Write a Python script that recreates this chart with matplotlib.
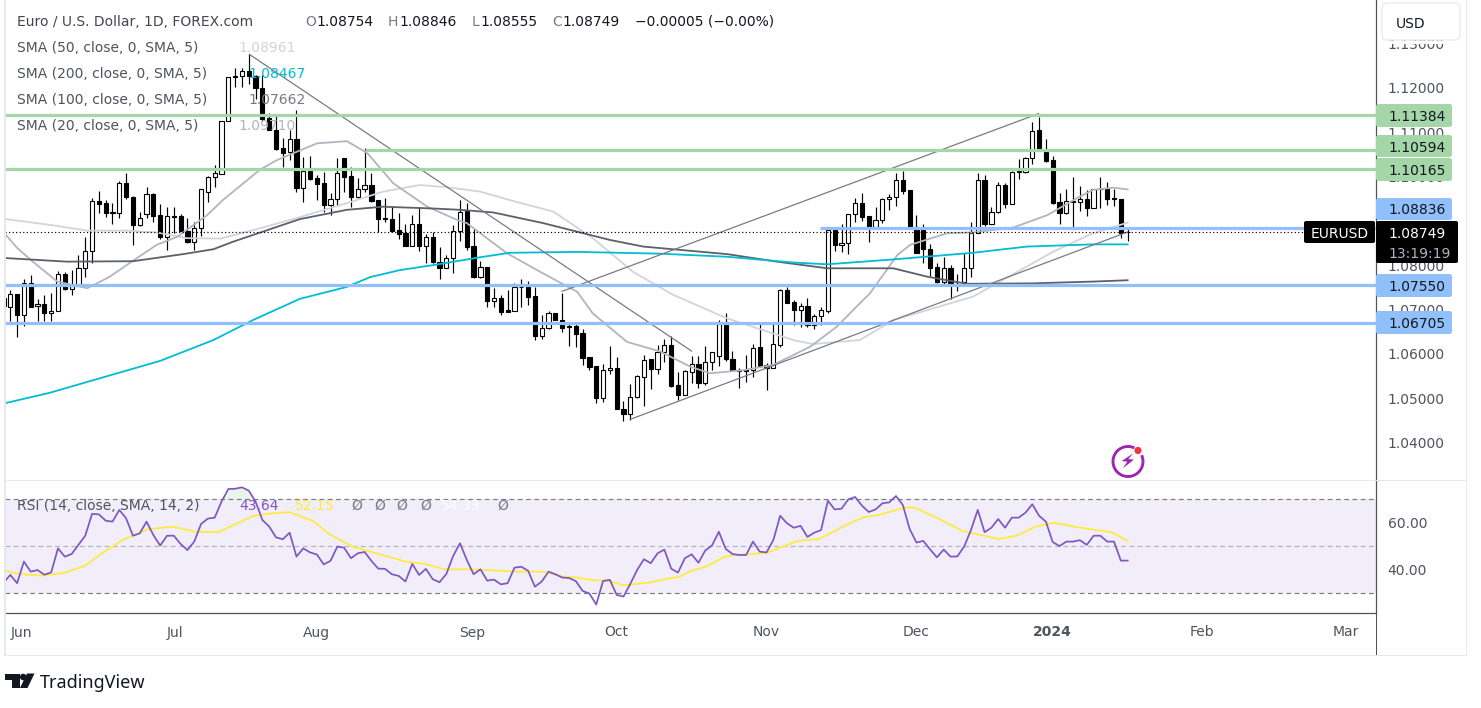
import numpy as np
import matplotlib
matplotlib.use("Agg")
import matplotlib.pyplot as plt
from matplotlib.patches import Rectangle, FancyBboxPatch, Polygon, Circle, Arc

plt.rcParams['font.family'] = ['DejaVu Sans']

# ---------- OHLC (daily, one row per bar) ----------
ohlc = [
(1.0726,1.0732,1.0694,1.0707),(1.0706,1.0745,1.0674,1.0734),(1.0734,1.0735,1.0637,1.0688),(1.0688,1.0768,1.0662,1.0760),
(1.0760,1.0777,1.0705,1.0706),(1.0707,1.0723,1.0674,1.0713),(1.0713,1.0732,1.0674,1.0691),(1.0691,1.0737,1.0674,1.0697),
(1.0697,1.0787,1.0696,1.0780),(1.0781,1.0784,1.0745,1.0747),(1.0747,1.0789,1.0733,1.0753),(1.0753,1.0822,1.0752,1.0793),
(1.0793,1.0863,1.0774,1.0831),(1.0831,1.0952,1.0805,1.0944),(1.0944,1.0968,1.0918,1.0939),(1.0940,1.0947,1.0909,1.0918),
(1.0920,1.0940,1.0893,1.0917),(1.0917,1.0990,1.0906,1.0985),(1.0985,1.1009,1.0949,1.0954),(1.0955,1.0956,1.0846,1.0891),
(1.0891,1.0920,1.0889,1.0906),(1.0915,1.0977,1.0906,1.0960),(1.0961,1.0963,1.0898,1.0912),(1.0913,1.0938,1.0860,1.0864),
(1.0864,1.0932,1.0834,1.0910),(1.0910,1.0932,1.0872,1.0909),(1.0911,1.0915,1.0877,1.0878),(1.0878,1.0906,1.0851,1.0853),
(1.0853,1.0898,1.0834,1.0885),(1.0884,1.0972,1.0866,1.0971),(1.0966,1.1001,1.0943,1.1000),(1.1000,1.1026,1.0977,1.1007),
(1.1006,1.1126,1.1005,1.1126),(1.1126,1.1225,1.1126,1.1224),(1.1226,1.1245,1.1203,1.1225),(1.1227,1.1245,1.1203,1.1238),
(1.1238,1.1276,1.1210,1.1227),(1.1227,1.1230,1.1174,1.1201),(1.1201,1.1230,1.1126,1.1129),(1.1132,1.1143,1.1105,1.1105),
(1.1105,1.1139,1.1060,1.1062),(1.1064,1.1086,1.1022,1.1054),(1.1055,1.1105,1.1037,1.1084),(1.1084,1.1150,1.0966,1.0975),
(1.0975,1.1045,1.0943,1.1013),(1.1013,1.1046,1.0992,1.0994),(1.0997,1.1003,1.0947,1.0984),(1.0985,1.1011,1.0919,1.0936),
(1.0936,1.0963,1.0913,1.0949),(1.0949,1.1041,1.0936,1.1007),(1.1041,1.1041,1.0966,1.1000),(1.1001,1.1022,1.0931,1.0954),
(1.0954,1.0996,1.0951,1.0973),(1.0972,1.1064,1.0966,1.0981),(1.0981,1.1007,1.0943,1.0945),(1.0947,1.0947,1.0875,1.0905),
(1.0906,1.0951,1.0898,1.0905),(1.0904,1.0933,1.0875,1.0878),(1.0879,1.0917,1.0858,1.0870),(1.0873,1.0893,1.0844,1.0844),
(1.0844,1.0913,1.0844,1.0894),(1.0894,1.0931,1.0832,1.0844),(1.0844,1.0870,1.0804,1.0863),(1.0863,1.0875,1.0804,1.0807),
(1.0808,1.0840,1.0768,1.0794),(1.0794,1.0823,1.0794,1.0817),(1.0817,1.0890,1.0783,1.0878),(1.0878,1.0947,1.0855,1.0921),
(1.0922,1.0940,1.0834,1.0841),(1.0843,1.0881,1.0771,1.0774),(1.0774,1.0810,1.0771,1.0795),(1.0795,1.0796,1.0706,1.0719),
(1.0720,1.0749,1.0705,1.0727),(1.0727,1.0732,1.0687,1.0695),(1.0698,1.0744,1.0695,1.0695),(1.0697,1.0759,1.0697,1.0750),
(1.0750,1.0768,1.0706,1.0751),(1.0750,1.0764,1.0710,1.0728),(1.0730,1.0751,1.0631,1.0640),(1.0640,1.0687,1.0634,1.0659),
(1.0658,1.0697,1.0655,1.0691),(1.0691,1.0692,1.0676,1.0676),(1.0677,1.0737,1.0649,1.0658),(1.0662,1.0672,1.0617,1.0661),
(1.0662,1.0667,1.0615,1.0644),(1.0646,1.0655,1.0574,1.0591),(1.0592,1.0592,1.0563,1.0570),(1.0572,1.0573,1.0489,1.0500),
(1.0501,1.0578,1.0491,1.0564),(1.0564,1.0617,1.0555,1.0568),(1.0569,1.0593,1.0475,1.0475),(1.0476,1.0493,1.0448,1.0464),
(1.0464,1.0531,1.0451,1.0502),(1.0502,1.0551,1.0500,1.0549),(1.0548,1.0598,1.0482,1.0587),(1.0588,1.0588,1.0520,1.0566),
(1.0566,1.0619,1.0555,1.0605),(1.0604,1.0634,1.0582,1.0619),(1.0619,1.0640,1.0525,1.0527),(1.0529,1.0559,1.0495,1.0507),
(1.0507,1.0563,1.0507,1.0561),(1.0560,1.0594,1.0533,1.0576),(1.0576,1.0594,1.0523,1.0533),(1.0533,1.0617,1.0529,1.0582),
(1.0582,1.0603,1.0563,1.0603),(1.0594,1.0677,1.0573,1.0668),(1.0668,1.0693,1.0584,1.0588),(1.0589,1.0606,1.0563,1.0563),
(1.0564,1.0568,1.0523,1.0561),(1.0564,1.0597,1.0536,1.0561),(1.0563,1.0623,1.0548,1.0614),(1.0615,1.0667,1.0571,1.0573),
(1.0574,1.0579,1.0518,1.0568),(1.0568,1.0667,1.0568,1.0621),(1.0620,1.0746,1.0615,1.0745),(1.0745,1.0751,1.0715,1.0715),
(1.0716,1.0721,1.0665,1.0699),(1.0699,1.0714,1.0661,1.0707),(1.0707,1.0725,1.0661,1.0665),(1.0666,1.0689,1.0655,1.0686),
(1.0686,1.0705,1.0665,1.0698),(1.0697,1.0887,1.0692,1.0879),(1.0879,1.0879,1.0832,1.0845),(1.0846,1.0894,1.0830,1.0850),
(1.0850,1.0915,1.0825,1.0915),(1.0915,1.0951,1.0898,1.0940),(1.0940,1.0964,1.0900,1.0909),(1.0910,1.0910,1.0853,1.0885),
(1.0887,1.0931,1.0887,1.0903),(1.0902,1.0952,1.0896,1.0949),(1.0949,1.0960,1.0924,1.0953),(1.0953,1.1007,1.0933,1.0992),
(1.0992,1.1013,1.0961,1.0968),(1.0969,1.0970,1.0883,1.0883),(1.0887,1.0913,1.0828,1.0828),(1.0879,1.0894,1.0805,1.0836),
(1.0836,1.0848,1.0776,1.0794),(1.0795,1.0804,1.0760,1.0762),(1.0762,1.0819,1.0757,1.0793),(1.0793,1.0800,1.0723,1.0760),
(1.0762,1.0780,1.0742,1.0761),(1.0762,1.0827,1.0762,1.0793),(1.0793,1.0897,1.0774,1.0873),(1.0873,1.1008,1.0873,1.0992),
(1.0992,1.1004,1.0888,1.0892),(1.0894,1.0931,1.0893,1.0921),(1.0921,1.0987,1.0917,1.0980),(1.0980,1.0985,1.0930,1.0939),
(1.0939,1.1013,1.0937,1.1010),(1.1010,1.1039,1.0994,1.1013),(1.1011,1.1045,1.1009,1.1041),(1.1041,1.1123,1.1028,1.1104),
(1.1105,1.1135,1.1060,1.1060),(1.1056,1.1084,1.1034,1.1036),(1.1037,1.1046,1.0939,1.0941),(1.0942,1.0964,1.0893,1.0918),
(1.0918,1.0971,1.0915,1.0944),(1.0944,1.1000,1.0883,1.0942),(1.0942,1.0979,1.0922,1.0949),(1.0949,1.0970,1.0912,1.0930),
(1.0930,1.0971,1.0930,1.0971),(1.0971,1.0998,1.0930,1.0972),(1.0971,1.0987,1.0936,1.0949),(1.0951,1.0971,1.0933,1.0949),
(1.0949,1.0949,1.0862,1.0873),(1.08754,1.08846,1.08555,1.08749),
]
opens = [r[0] for r in ohlc]
highs = [r[1] for r in ohlc]
lows = [r[2] for r in ohlc]
closes = [r[3] for r in ohlc]

# ---------- moving averages: bar position, value ----------
sma200_x = [.37,6.8,14.2,23,30.8,36.6,43.5,50.4,53.8,58.2,63,70,74.3,84.2,96.4,106.2,115.9,120.9,130.6,142.3,150.2,159.9,165]
sma200_y = [1.0489,1.0512,1.0545,1.0584,1.0631,1.0676,1.0724,1.0751,1.0773,1.0789,1.0800,1.0818,1.0828,1.0830,1.0826,1.0819,1.0806,1.0802,1.0813,1.0828,1.0842,1.0847,1.0847]
sma100_x = [.37,9.3,19,26.4,30.8,33.7,38.7,43.5,50.4,55.7,63,67,71.9,79.2,89,93.9,106.2,113.5,120.9,130.6,135.6,141.4,151.1,159.9,165]
sma100_y = [1.0816,1.0808,1.0809,1.0825,1.0836,1.0853,1.0879,1.0904,1.0925,1.0932,1.0928,1.0925,1.0919,1.0895,1.0857,1.0842,1.0825,1.0808,1.0793,1.0793,1.0774,1.0758,1.0759,1.0763,1.0766]
sma50_x = [.37,6.8,12.3,18.1,22.5,26.9,31.8,36.6,42.5,50.4,55.7,61.1,65.1,70,74.3,80.7,86.5,92.4,98.3,106.2,115.9,118.8,125.7,130.6,142.3,150.2,154,159.9,165]
sma50_y = [1.0904,1.0891,1.0878,1.0878,1.0874,1.0861,1.0860,1.0879,1.0904,1.0940,1.0966,1.0981,1.0976,1.0966,1.0947,1.0921,1.0861,1.0785,1.0733,1.0680,1.0631,1.0622,1.0631,1.0676,1.0729,1.0797,1.0830,1.0872,1.0896]
sma20_x = [.37,2,4.3,7.9,12.3,15.6,19,22.5,25.5,29.9,32.2,37.6,40.1,46,50.4,53.4,57.2,62.2,66.6,68,73.9,78.3,84.2,86.5,91.5,96.4,100.8,103.7,108.6,113,118.4,122.3,125.7,127.2,131.2,133.1,138.5,142.3,148.2,153.2,158,159.9,162.9,165]
sma20_y = [1.0868,1.0839,1.0808,1.0763,1.0748,1.0774,1.0810,1.0846,1.0864,1.0913,1.0947,1.1015,1.1037,1.1075,1.1080,1.1053,1.0985,1.0932,1.0902,1.0895,1.0827,1.0789,1.0740,1.0691,1.0627,1.0605,1.0571,1.0556,1.0563,1.0575,1.0616,1.0661,1.0714,1.0737,1.0823,1.0846,1.0872,1.0874,1.0885,1.0913,1.0955,1.0970,1.0975,1.0971]

# ---------- horizontal levels and trend lines ----------
green_levels = [1.11384, 1.10594, 1.10165]
blue_levels = [1.08836, 1.07550, 1.06705]
level_start = {1.10594: 53, 1.08836: 119.8}
last_price = 1.08749
trend_lines = [((36.08, 1.1276), (101, 1.0606)),
               ((92, 1.0452), (165, 1.0875)),
               ((82, 1.0741), (151.9, 1.1142))]

# ---------- RSI ----------
rsi = [34.5,37.8,34.3,43.5,39.2,39.9,37.9,38.9,49.1,45.6,46.7,50.6,54.5,63.8,63.6,60.9,60.5,65.5,61.9,54.5,55.5,60.5,54.8,50.3,54.5,54.5,51.0,48.4,52.0,59.5,61.8,62.2,69.0,74.4,74.5,75.1,73.7,69.0,61.2,58.4,53.8,53.0,55.8,45.6,49.1,47.4,46.5,42.3,43.8,49.9,49.4,44.9,47.0,47.6,43.8,40.5,40.4,38.1,37.4,35.0,42.5,37.8,40.4,36.0,34.7,38.2,45.9,51.3,44.2,38.1,40.2,35.4,35.8,33.8,34.3,40.9,41.3,39.6,32.8,35.0,39.2,38.1,36.7,36.5,35.2,31.0,29.9,25.2,35.2,35.7,29.3,28.6,34.0,39.9,44.5,42.8,47.0,48.6,40.5,38.8,44.9,46.6,43.0,48.2,50.4,56.2,48.9,46.7,46.3,46.3,52.0,47.7,47.4,52.7,63.0,59.8,57.9,58.7,54.0,55.8,56.9,69.4,65.7,66.0,70.0,71.0,67.3,64.6,65.7,68.3,68.7,71.4,67.6,57.4,51.6,52.3,48.7,45.3,48.6,45.6,45.7,49.9,56.9,65.5,56.0,57.9,61.6,57.9,62.2,62.2,64.3,67.9,63.0,60.5,51.8,50.1,52.0,52.0,52.6,50.6,54.5,54.5,52.0,52.0,43.9,43.9]
rsi_ma_x = [.28,2.3,5.7,9,11.9,14.1,17.5,21.1,24.8,28.1,31.5,33.8,36.6,38.8,41.9,45.6,47.8,51.2,55.1,59,61.9,64.7,68.6,73.1,74.8,79.3,82.1,84.3,84.6,87.1,88.8,91,94.7,97.5,99.2,100.9,103.1,105.7,107.1,111,112.1,116.6,119.7,123.9,126.2,128.4,132.4,134,137.4,140.8,143,146.1,148.6,151.5,154.3,157.1,159.9,162.7,165]
rsi_ma_y = [39.6,38.2,37.5,38.8,41.6,46.3,52.7,57.2,58.4,56.2,56.0,59.1,62.9,63.8,64.6,60.5,55.2,49.9,46.7,43.5,42.5,40.2,40.2,39.6,39.2,39.2,37.1,36.7,36.4,35.4,35.4,33.4,34.5,36.2,37.0,39.5,41.3,45.3,46.2,47.0,47.3,52.3,53.1,59.4,62.3,63.3,66.6,66.2,61.5,56.5,55.1,53.1,54.4,58.4,60.0,58.4,57.1,56.0,52.3]

# ---------- axis labels ----------
month_pos = [2.7,25.2,46,68.8,90,112,134,154,175.9,197]
month_lbl = ['Jun','Jul','Aug','Sep','Oct','Nov','Dec','2024','Feb','Mar']
price_ticks = [1.04,1.05,1.06,1.07,1.08,1.10,1.11,1.12,1.13]
rsi_ticks = [40,60]

W, H = 1481, 708
TXT = '#50535e'
AXC = '#50535e'
BORDER = '#e6e8ef'
FS = 10.0
fig = plt.figure(figsize=(W/100, H/100), dpi=100, facecolor='white')

def axes_px(x0, y0, x1, y1, **kw):
    return fig.add_axes([x0/W, 1-y1/H, (x1-x0)/W, (y1-y0)/H], **kw)

ax = axes_px(5, 0, 1376, 480)
rx = axes_px(5, 481, 1376, 613)
xlim = (0.222, 201.45)
ax.set_xlim(*xlim)
rx.set_xlim(*xlim)
ax.set_ylim(1.03151, 1.13986)
rx.set_ylim(21.6, 77.8)

for lv in green_levels:
    ax.plot([level_start.get(lv, xlim[0]), xlim[1]], [lv, lv], color='#a5d6a7', lw=2.3, zorder=7, solid_capstyle='butt')
for lv in blue_levels:
    ax.plot([level_start.get(lv, xlim[0]), xlim[1]], [lv, lv], color='#90bff9', lw=2.3, zorder=7, solid_capstyle='butt')

idx = np.arange(len(ohlc))
o, h, l, c = map(np.array, (opens, highs, lows, closes))
ax.vlines(idx, l, h, color='black', lw=0.85, zorder=3)
up = c >= o
bw = 0.62
ax.bar(idx[up], np.maximum(c[up]-o[up], 0.0001), bottom=o[up], width=bw, facecolor='white', edgecolor='black', linewidth=0.8, zorder=4)
ax.bar(idx[~up], np.maximum(o[~up]-c[~up], 0.0001), bottom=c[~up], width=bw, facecolor='black', edgecolor='black', linewidth=0.8, zorder=4)

ax.plot(sma50_x, sma50_y, color='#d1d4dc', lw=1.3, zorder=5)
ax.plot(sma20_x, sma20_y, color='#b2b5be', lw=1.3, zorder=5)
ax.plot(sma100_x, sma100_y, color='#5d606b', lw=1.3, zorder=5)
ax.plot(sma200_x, sma200_y, color='#00bcd4', lw=1.3, zorder=5)
for (a, b) in trend_lines:
    ax.plot([a[0], b[0]], [a[1], b[1]], color='#787b86', lw=0.9, zorder=6)
ax.plot([xlim[0], xlim[1]], [last_price, last_price], color='black', lw=0.85, ls=(0, (1, 2)), zorder=6)

ax.set_xticks([])
ax.set_yticks(price_ticks)
ax.set_yticklabels([f'{t:.5f}' for t in price_ticks], fontsize=FS, color=TXT)
ax.yaxis.tick_right()
ax.tick_params(axis='y', length=0, pad=8.5)
for s in ('top', 'left', 'bottom'):
    ax.spines[s].set_visible(False)
ax.spines['right'].set_color(AXC)
ax.spines['right'].set_linewidth(0.9)

rx.axhspan(30, 70, color='#f1edf9', lw=0, zorder=1)
ri = np.arange(len(rsi))
ra = np.array(rsi)
rx.fill_between(ri, 70, ra, where=ra > 70, interpolate=True, color='#e8f5e9', lw=0, zorder=1.5)
rx.axhline(70, color='#787b86', lw=0.85, ls=(0, (4, 3)), zorder=2)
rx.axhline(30, color='#787b86', lw=0.85, ls=(0, (4, 3)), zorder=2)
rx.axhline(50, color='#b2b5be', lw=0.85, ls=(0, (4, 3)), zorder=2)
rx.plot(rsi_ma_x, rsi_ma_y, color='#ffeb3b', lw=1.25, zorder=3)
rx.plot(ri, rsi, color='#7e57c2', lw=1.25, zorder=4)
rx.set_yticks(rsi_ticks)
rx.set_yticklabels([f'{t:.2f}' for t in rsi_ticks], fontsize=FS, color=TXT)
rx.yaxis.tick_right()
rx.tick_params(axis='y', length=0, pad=8.5)
rx.set_xticks(month_pos)
rx.set_xticklabels(month_lbl, fontsize=FS, color=TXT)
rx.tick_params(axis='x', length=0, pad=9)
for t in rx.get_xticklabels():
    if t.get_text() == '2024':
        t.set_fontweight('bold')
for s in ('top', 'left'):
    rx.spines[s].set_visible(False)
for s in ('right', 'bottom'):
    rx.spines[s].set_color(AXC)
    rx.spines[s].set_linewidth(0.9)

ov = fig.add_axes([0, 0, 1, 1], facecolor='none', zorder=10)
ov.set_xlim(0, W)
ov.set_ylim(H, 0)
ov.axis('off')

def T(x, y, s, color=TXT, size=FS, **kw):
    kw.setdefault('ha', 'left')
    kw.setdefault('va', 'center_baseline')
    return ov.text(x, y, s, color=color, fontsize=size, **kw)

ov.add_patch(Rectangle((4, 0), 1.6, 656, color=BORDER, lw=0))
ov.add_patch(Rectangle((1465.5, 0), 1.6, 656, color=BORDER, lw=0))
ov.add_patch(Rectangle((4, 654.5), 1463, 1.6, color=BORDER, lw=0))
ov.add_patch(Rectangle((5, 480), 1462, 1.4, color=BORDER, lw=0))
ov.add_patch(Rectangle((1376, 613), 1, 42, color=AXC, lw=0))

T(17, 20, 'Euro / U.S. Dollar, 1D, FOREX.com', color='#434651')
hx = [(305, 'O', '1.08754', 11.5), (388, 'H', '1.08846', 11), (472, 'L', '1.08555', 8.5), (552, 'C', '1.08749', 10.5)]
for x, a, b, dx in hx:
    T(x, 20, a, color='#787b86')
    T(x + dx, 20, b, color='#131722')
T(635, 20, '\u22120.00005 (\u22120.00%)', color='#131722')

rows = [(46, 'SMA (50, close, 0, SMA, 5)', 238, '1.08961', '#d1d4dc'),
        (72, 'SMA (200, close, 0, SMA, 5)', 248, '1.08467', '#00bcd4'),
        (98, 'SMA (100, close, 0, SMA, 5)', 248, '1.07662', '#787b86'),
        (124, 'SMA (20, close, 0, SMA, 5)', 238, '1.09710', '#b2b5be')]
for y, a, x, b, col in rows:
    T(17, y, a)
    T(x, y, b, color=col)
T(17, 504, 'RSI (14, close, SMA, 14, 2)')
T(239, 504, '43.64', color='#7e57c2')
T(295, 504, '52.15', color='#ffeb3b')
for x in (351, 374, 396, 420, 497):
    T(x, 504, '\u00d8', color='#787b86')
T(441, 504, '54.33', color='white')

ov.add_patch(FancyBboxPatch((1382, 3), 78, 37, boxstyle='round,pad=0,rounding_size=5',
                            facecolor='white', edgecolor='#e9ebf2', lw=1.0))
ov.add_patch(Rectangle((1378, 40.8), 87, 3.4, color='white', lw=0))
T(1396, 22, 'USD', color='#131722')

def tag(y0, y1, txt, col):
    ov.add_patch(FancyBboxPatch((1376, y0), 76, y1-y0, boxstyle='round,pad=0,rounding_size=2.5',
                                facecolor=col, edgecolor='none'))
    T(1388, (y0+y1)/2, txt, color='#131722')

tag(104, 127, '1.11384', '#a5d6a7')
tag(135, 157, '1.10594', '#a5d6a7')
tag(158, 181, '1.10165', '#a5d6a7')
tag(198, 220, '1.08836', '#90bff9')
tag(274, 297, '1.07550', '#90bff9')
tag(311, 334, '1.06705', '#90bff9')

ov.add_patch(FancyBboxPatch((1304, 221), 71, 22, boxstyle='round,pad=0,rounding_size=2',
                            facecolor='black', edgecolor='none'))
T(1339.5, 232.5, 'EURUSD', color='white', ha='center')
ov.add_patch(FancyBboxPatch((1376, 221), 82, 42, boxstyle='round,pad=0,rounding_size=2',
                            facecolor='black', edgecolor='none'))
T(1388, 233, '1.08749', color='white')
T(1388, 252, '13:19:19', color='#b2b5be')

ov.add_patch(Arc((1128, 461.5), 30, 30, theta1=-25, theta2=295, color='#9c27b0', lw=2.1))
ov.add_patch(Polygon([(1133.3, 453.3), (1121.7, 461), (1127.3, 461.7), (1122.7, 468.3), (1134, 459.7), (1128.3, 459)],
                     closed=True, color='#9c27b0', lw=0))
ov.add_patch(Circle((1138, 450.5), 3.6, color='#f23645', lw=0))

LOGO = '#131722'
ov.add_patch(Polygon([(5, 673.5), (19.5, 673.5), (19.5, 688), (12, 688), (12, 680), (5, 680)], closed=True, color=LOGO, lw=0))
ov.add_patch(Circle((23.2, 677), 3.3, color=LOGO, lw=0))
ov.add_patch(Polygon([(34.5, 673.5), (27.5, 688), (20, 688), (27, 673.5)], closed=True, color=LOGO, lw=0))
ov.text(40, 681.5, 'TradingView', color=LOGO, fontsize=13.0, family='Noto Sans', ha='left', va='center_baseline')

fig.savefig('out.png', dpi=100, facecolor='white')
